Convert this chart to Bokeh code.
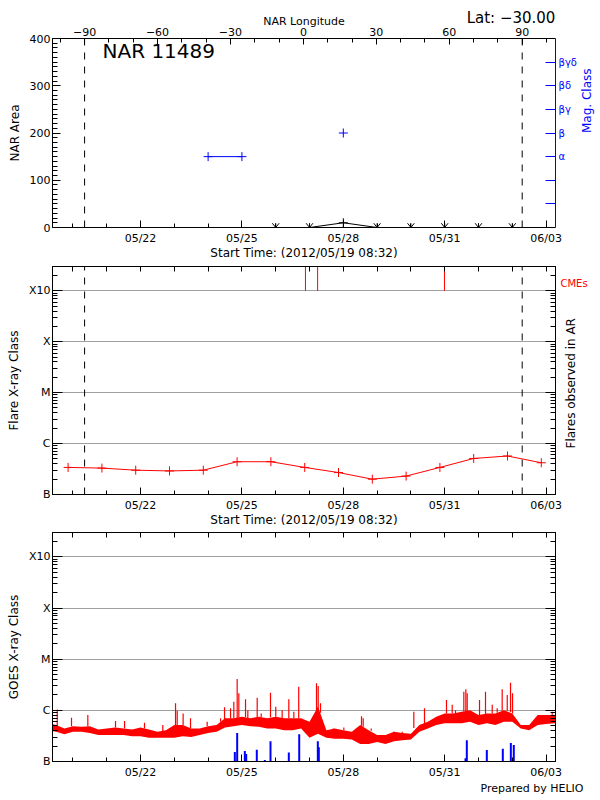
import numpy as np
import pandas as pd
from bokeh.plotting import figure
from bokeh.models import (Range1d, LinearAxis, LogAxis, FixedTicker,
                          CustomJSTickFormatter, Label, Title)
from bokeh.layouts import column
from bokeh.embed import file_html
from bokeh.resources import INLINE

FONT = "DejaVu Sans"
RED = "#ff0000"
BLUE = "#0000ff"
GRID = "#a0a0a0"

# ---------------- data ----------------
start_time = "2012-05-19 09:30"
end_time = "2012-06-03 06:40"
start_label = "Start Time: (2012/05/19 08:32)"
nar_title = "NAR 11489"
lat_text = "Lat: \u221230.00"

date_ticks = ["2012-05-22", "2012-05-25", "2012-05-28", "2012-05-31", "2012-06-03"]
date_labels = ["05/22", "05/25", "05/28", "05/31", "06/03"]
day_ticks = ["2012-05-20", "2012-05-21", "2012-05-22", "2012-05-23", "2012-05-24",
             "2012-05-25", "2012-05-26", "2012-05-27", "2012-05-28", "2012-05-29",
             "2012-05-30", "2012-05-31", "2012-06-01", "2012-06-02", "2012-06-03"]

lon_range = (-103.2, 103.7)
lon_ticks = [-90, -60, -30, 0, 30, 60, 90]
lon_labels = ["\u221290", "\u221260", "\u221230", "0", "30", "60", "90"]
lon_minor = list(range(-100, 101, 10))
limb_lons = [-90, 90]

area_range = (0, 400)
area_ticks = [0, 100, 200, 300, 400]
area_labels = ["0", "100", "200", "300", "400"]
area_minor = list(range(0, 401, 10))

mag_tick_pos = [50, 100, 150, 200, 250, 300, 350]
mag_tick_labels = ["", "", "\u03b1", "\u03b2", "\u03b2\u03b3", "\u03b2\u03b4", "\u03b2\u03b3\u03b4"]
mag_dates = ["2012-05-24", "2012-05-25", "2012-05-26", "2012-05-27", "2012-05-28"]
mag_class = ["\u03b1", "\u03b1", None, None, "\u03b2"]

area_dates = ["2012-05-26", "2012-05-27", "2012-05-28", "2012-05-29",
              "2012-05-30", "2012-05-31", "2012-06-01", "2012-06-02"]
area_vals = [0, 0, 10, 0, 0, 0, 0, 0]

xray_range = (1e-7, 3e-3)
xray_ticks = [1e-7, 1e-6, 1e-5, 1e-4, 1e-3]
xray_labels = ["B", "C", "M", "X", "X10"]
xray_grid = [1e-6, 1e-5, 1e-4, 1e-3]
xray_minor = [k * 10.0 ** e for e in range(-7, -2) for k in range(2, 10) if k * 10.0 ** e <= 3e-3]

# flare class of the active region (units of B1 = 1e-7 W/m^2)
flare_times = ["2012-05-19 20:35", "2012-05-20 20:35", "2012-05-21 20:35", "2012-05-22 20:35",
               "2012-05-23 20:35", "2012-05-24 20:35", "2012-05-25 20:35", "2012-05-26 20:35",
               "2012-05-27 20:35", "2012-05-28 20:35", "2012-05-29 20:35", "2012-05-30 20:35",
               "2012-05-31 20:35", "2012-06-01 20:35", "2012-06-02 20:35"]
flare_b = [3.4, 3.3, 3.0, 2.9, 3.0, 4.4, 4.4, 3.4, 2.7, 2.0, 2.3, 3.4, 5.1, 5.7, 4.2]

cme_times = ["2012-05-26 21:07", "2012-05-27 05:45", "2012-05-30 23:50"]
cme_label = "CMEs"

# GOES envelope every 6 h (units of B1 = 1e-7 W/m^2)
goes_start, goes_end = "2012-05-19 06:00", "2012-06-03 12:00"
goes_hi_b = [5.6, 5.2, 4.4, 4.9, 4.8, 4.9, 4.2, 4.4, 4.6, 4.4, 4.2, 4.6, 4.2, 3.8, 4.1, 5.2,
             5.2, 4.4, 4.4, 4.9, 5.2, 7.0, 7.0, 7.5, 7.0, 7.5, 7.0, 7.5, 7.0, 7.0, 7.0, 6.0,
             11.8, 4.1, 4.4, 4.1, 3.8, 5.2, 4.1, 3.3, 3.3, 3.8, 3.6, 3.5, 5.2, 6.0, 7.5, 8.7,
             8.7, 9.4, 10.1, 8.1, 8.7, 8.7, 10.1, 8.7, 5.2, 5.2, 8.1, 8.1, 8.1, 8.1]
goes_lo_b = [4.1, 3.8, 3.4, 3.8, 3.8, 3.6, 3.3, 3.3, 3.3, 3.3, 3.1, 3.1, 2.9, 2.9, 2.9, 2.9,
             3.1, 3.0, 3.3, 3.6, 3.8, 4.6, 4.9, 5.2, 4.9, 4.8, 4.4, 4.4, 4.1, 4.1, 4.4, 2.9,
             3.5, 2.9, 2.8, 2.8, 2.7, 2.2, 2.2, 2.4, 2.2, 2.5, 2.6, 2.7, 3.8, 4.4, 5.2, 5.6,
             5.6, 5.6, 6.0, 5.2, 5.6, 5.2, 6.0, 6.0, 4.4, 4.1, 5.2, 5.4, 5.6, 5.6]

# GOES short spikes: time, foot level, peak (units of B1)
spike_times = ["2012-05-19 12:52", "2012-05-19 23:00", "2012-05-20 10:35", "2012-05-21 06:15",
               "2012-05-21 12:40", "2012-05-22 02:50", "2012-05-22 15:50", "2012-05-23 00:52",
               "2012-05-23 02:03", "2012-05-23 06:15", "2012-05-23 11:30", "2012-05-23 23:20",
               "2012-05-24 08:50", "2012-05-24 11:40", "2012-05-24 15:55", "2012-05-24 18:15",
               "2012-05-24 20:38", "2012-05-24 21:48", "2012-05-25 02:34", "2012-05-25 04:12",
               "2012-05-25 10:51", "2012-05-25 13:41", "2012-05-25 20:18", "2012-05-26 00:02",
               "2012-05-26 04:34", "2012-05-26 09:18", "2012-05-26 12:52", "2012-05-26 16:20",
               "2012-05-27 04:58", "2012-05-27 06:10", "2012-05-27 07:48", "2012-05-27 16:48",
               "2012-05-28 00:22", "2012-05-28 12:55", "2012-05-28 14:07", "2012-05-28 19:48",
               "2012-05-29 11:51", "2012-05-29 17:48", "2012-05-30 02:04", "2012-05-30 09:39",
               "2012-05-31 01:16", "2012-05-31 05:19", "2012-05-31 07:40", "2012-05-31 13:34",
               "2012-05-31 15:00", "2012-05-31 15:58", "2012-06-01 00:43", "2012-06-01 04:58",
               "2012-06-01 09:43", "2012-06-01 13:16", "2012-06-01 16:48", "2012-06-01 20:24",
               "2012-06-01 22:44", "2012-06-02 00:09", "2012-06-03 04:19"]
spike_base_b = [5.0, 4.9, 4.9, 4.6, 4.4, 4.4, 3.9, 5.2, 5.2, 5.2, 4.5, 4.9, 6.0, 6.8, 7.0, 7.0,
                7.0, 7.2, 7.3, 7.0, 7.3, 7.4, 7.3, 7.5, 7.1, 7.0, 7.0, 7.0, 9.0, 10.0, 9.0, 4.2,
                4.1, 5.0, 4.8, 4.0, 3.7, 3.6, 4.5, 5.5, 8.7, 8.7, 8.9, 9.5, 9.6, 9.7, 8.1, 8.5,
                8.7, 9.0, 9.8, 9.8, 9.3, 8.7, 8.1]
spike_peak_b = [10.4, 7.2, 8.1, 6.2, 6.2, 5.7, 5.2, 13.7, 9.8, 8.7, 7.0, 6.0, 7.0, 11.5, 11.0, 14.8,
                41.0, 21.5, 16.5, 10.1, 17.7, 8.7, 22.2, 11.8, 10.1, 16.5, 9.4, 29.0, 34.0, 29.9, 13.7, 4.4,
                4.6, 7.7, 7.0, 4.4, 3.8, 3.8, 9.4, 11.0, 16.0, 12.8, 10.1, 23.2, 25.8, 21.5, 16.0, 23.2,
                12.8, 11.0, 25.8, 20.0, 34.8, 21.5, 9.4]

# flares observed in the AR (blue bars, units of B1)
ar_flare_times = ["2012-05-24 18:58", "2012-05-24 20:38", "2012-05-25 02:04", "2012-05-25 03:03",
                  "2012-05-25 10:34", "2012-05-25 16:16", "2012-05-25 20:18", "2012-05-26 09:18",
                  "2012-05-26 16:41", "2012-05-27 05:54", "2012-05-27 06:36", "2012-05-31 14:46",
                  "2012-05-31 15:42", "2012-06-01 05:54", "2012-06-01 17:15", "2012-06-01 22:57",
                  "2012-06-02 01:03"]
ar_flare_b = [1.54, 3.6, 1.6, 1.4, 1.7, 1.07, 2.5, 1.5, 3.4, 2.5, 1.9, 1.16, 2.6, 1.67, 1.77, 2.3, 2.1]

B1 = 1e-7

# placement of texts that sit outside the frames (axis coordinates)
lat_pos = 85.4                 # longitude at which the "Lat" text is centred
cme_label_level = 1.37e-3      # height of the "CMEs" text
flares_title = "Flares observed in AR"
flares_title_level = 8.0e-7    # height where the rotated right-hand title starts


# ---------------- helpers ----------------
def ms(vals):
    s = pd.to_datetime(pd.Series(list(vals)))
    return ((s - pd.Timestamp("1970-01-01")) / pd.Timedelta(milliseconds=1)).to_numpy(dtype=float)


def lab_fmt(pos, labs, log=False):
    return CustomJSTickFormatter(args=dict(pos=[float(v) for v in pos], labs=list(labs), lg=log), code="""
        for (let i = 0; i < pos.length; i++) {
            let d, tol;
            if (lg) { d = Math.abs(Math.log10(tick) - Math.log10(pos[i])); tol = 1e-6; }
            else { d = Math.abs(tick - pos[i]); tol = 1e-6 * Math.max(1, Math.abs(pos[i])); }
            if (d < tol) return labs[i];
        }
        return '';
    """)


def blank_fmt():
    return CustomJSTickFormatter(code="return '';")


def style(ax, major_in, minor_in, size="11px", color="black", standoff=2,
          label_size="12px", label_standoff=0):
    ax.major_tick_in = major_in
    ax.major_tick_out = 0
    ax.minor_tick_in = minor_in
    ax.minor_tick_out = 0
    ax.axis_line_color = color
    ax.major_tick_line_color = color
    ax.minor_tick_line_color = color if minor_in else None
    ax.major_label_text_color = color
    ax.axis_label_text_color = color
    ax.major_label_text_font = FONT
    ax.major_label_text_font_size = size
    ax.axis_label_text_font = FONT
    ax.axis_label_text_font_size = label_size
    ax.axis_label_text_font_style = "normal"
    ax.major_label_standoff = standoff
    ax.axis_label_standoff = label_standoff


def text_only(ax):
    ax.axis_line_color = None
    ax.major_tick_line_color = None
    ax.minor_tick_line_color = None
    ax.major_tick_in = 0
    ax.major_tick_out = 0
    ax.minor_tick_in = 0
    ax.minor_tick_out = 0


T0, T1 = ms([start_time, end_time])
DAY = 86400000.0


def base_fig(frame_h, top, bottom, yr, log=False):
    p = figure(frame_width=503, frame_height=frame_h,
               x_range=Range1d(T0, T1), y_range=Range1d(*yr),
               x_axis_type="datetime", y_axis_type="log" if log else "linear",
               output_backend="svg", toolbar_location=None,
               min_border_left=52, min_border_right=45,
               min_border_top=top, min_border_bottom=bottom)
    p.grid.visible = False
    p.outline_line_color = "black"
    p.background_fill_color = "white"
    p.border_fill_color = "white"
    return p


def time_axis(p, label):
    ax = p.below[0]
    ax.ticker = FixedTicker(ticks=list(ms(date_ticks)), minor_ticks=list(ms(day_ticks)))
    ax.formatter = lab_fmt(ms(date_ticks), date_labels)
    ax.axis_label = label
    style(ax, 7, 4, standoff=4, label_standoff=-2)


def top_time_axis(p):
    ax = LinearAxis(ticker=FixedTicker(ticks=list(ms(day_ticks))), formatter=blank_fmt())
    style(ax, 5, 0, size="1px", standoff=-6)
    p.add_layout(ax, "above")


def xray_left(p, label):
    ax = p.left[0]
    ax.ticker = FixedTicker(ticks=xray_ticks, minor_ticks=xray_minor)
    ax.formatter = lab_fmt(xray_ticks, xray_labels, log=True)
    ax.axis_label = label
    style(ax, 10, 5, standoff=2, label_standoff=5)


def xray_right(p):
    ax = LogAxis(ticker=FixedTicker(ticks=xray_ticks, minor_ticks=xray_minor), formatter=blank_fmt())
    style(ax, 10, 5, size="1px", standoff=0)
    p.add_layout(ax, "right")
    return ax


# ---------------- panel 1: NAR area ----------------
p1 = base_fig(189, 38, 33, area_range)
p1.outline_line_color = None
time_axis(p1, start_label)
yl = p1.left[0]
yl.ticker = FixedTicker(ticks=area_ticks, minor_ticks=area_minor)
yl.formatter = lab_fmt(area_ticks, area_labels)
yl.axis_label = "NAR Area"
style(yl, 8, 5, standoff=2, label_standoff=5)

p1.extra_x_ranges = {"lon": Range1d(*lon_range)}
lon_ax = LinearAxis(x_range_name="lon", ticker=FixedTicker(ticks=lon_ticks, minor_ticks=lon_minor),
                    formatter=lab_fmt(lon_ticks, lon_labels), axis_label="NAR Longitude")
style(lon_ax, 6, 4, standoff=3, label_size="11px", label_standoff=-3)
p1.add_layout(lon_ax, "above")

lat_ax = LinearAxis(x_range_name="lon", ticker=FixedTicker(ticks=[lat_pos]),
                    formatter=lab_fmt([lat_pos], [lat_text]))
style(lat_ax, 0, 0, size="15px", standoff=-15)
text_only(lat_ax)
p1.add_layout(lat_ax, "above")

mag_ax = LinearAxis(ticker=FixedTicker(ticks=mag_tick_pos), formatter=lab_fmt(mag_tick_pos, mag_tick_labels))
style(mag_ax, 10, 0, size="10px", color=BLUE, standoff=3)
p1.add_layout(mag_ax, "right")

magl_ax = LinearAxis(ticker=FixedTicker(ticks=[]), formatter=blank_fmt(), axis_label="Mag. Class")
style(magl_ax, 0, 0, size="1px", color=BLUE, standoff=0, label_standoff=7)
text_only(magl_ax)
magl_ax.axis_label_orientation = np.pi / 2
p1.add_layout(magl_ax, "right")

p1.segment(x0=limb_lons, y0=[area_range[0]] * 2, x1=limb_lons, y1=[area_range[1]] * 2,
           x_range_name="lon", line_color="black", line_width=1, line_dash="7 7")

mag_x = ms(mag_dates)
mag_y = [mag_tick_pos[mag_tick_labels.index(c)] if c else np.nan for c in mag_class]
p1.line(mag_x, mag_y, line_color=BLUE, line_width=1)
p1.scatter(mag_x, mag_y, marker="cross", size=9, line_color=BLUE, line_width=1)

ax_x = ms(area_dates)
av = np.array(area_vals, dtype=float)
p1.line(ax_x, av, line_color="black", line_width=1)
nz = av > 0
p1.scatter(ax_x[nz], av[nz], marker="cross", size=9, line_color="black", line_width=1)
zx = ax_x[~nz]
arm_w, arm_h = 0.1 * DAY, 9.0
p1.segment(x0=np.concatenate([zx, zx - arm_w, zx + arm_w]),
           y0=np.concatenate([np.zeros_like(zx), np.full_like(zx, arm_h), np.full_like(zx, arm_h)]),
           x1=np.concatenate([zx, zx, zx]),
           y1=np.concatenate([np.full_like(zx, arm_h), np.zeros_like(zx), np.zeros_like(zx)]),
           line_color="black", line_width=1)

p1.add_layout(Label(x=T0, y=area_range[1], x_offset=50, y_offset=-12, text=nar_title,
                    text_font=FONT, text_font_size="20px", text_color="black",
                    text_align="left", text_baseline="middle"))

# ---------------- panel 2: flares in AR ----------------
p2 = base_fig(228, 4, 33, xray_range, log=True)
time_axis(p2, start_label)
top_time_axis(p2)
xray_left(p2, "Flare X-ray Class")
xray_right(p2)
cme_ax = LogAxis(ticker=FixedTicker(ticks=[cme_label_level]),
                 formatter=lab_fmt([cme_label_level], [cme_label], log=True))
style(cme_ax, 0, 0, size="10px", color=RED, standoff=5)
text_only(cme_ax)
p2.add_layout(cme_ax, "right")

fl_ax = LogAxis(ticker=FixedTicker(ticks=[flares_title_level]),
                formatter=lab_fmt([flares_title_level], [flares_title], log=True))
style(fl_ax, 0, 0, size="12px", color="black", standoff=-19)
text_only(fl_ax)
fl_ax.major_label_orientation = np.pi / 2
p2.add_layout(fl_ax, "right")

p2.ygrid.visible = True
p2.ygrid.ticker = FixedTicker(ticks=xray_grid)
p2.ygrid.grid_line_color = GRID
p2.ygrid.grid_line_width = 1

p2.extra_x_ranges = {"lon": Range1d(*lon_range)}
p2.segment(x0=limb_lons, y0=[xray_range[0]] * 2, x1=limb_lons, y1=[xray_range[1]] * 2,
           x_range_name="lon", line_color="black", line_width=1, line_dash="7 7")

fx = ms(flare_times)
fy = np.array(flare_b) * B1
p2.line(fx, fy, line_color=RED, line_width=1)
p2.scatter(fx, fy, marker="cross", size=9, line_color=RED, line_width=1)

cx = ms(cme_times)
p2.segment(x0=cx, y0=[xray_ticks[-1]] * len(cx), x1=cx, y1=[xray_range[1]] * len(cx),
           line_color=RED, line_width=1)

# ---------------- panel 3: GOES ----------------
p3 = base_fig(229, 3, 39, xray_range, log=True)
time_axis(p3, "")
p3.below[0].axis_label = None
top_time_axis(p3)
xray_left(p3, "GOES X-ray Class")
xray_right(p3)
p3.ygrid.visible = True
p3.ygrid.ticker = FixedTicker(ticks=xray_grid)
p3.ygrid.grid_line_color = GRID
p3.ygrid.grid_line_width = 1

gx = ms(pd.date_range(goes_start, goes_end, freq="6h").strftime("%Y-%m-%d %H:%M"))
p3.varea(x=gx, y1=np.array(goes_lo_b) * B1, y2=np.array(goes_hi_b) * B1, fill_color=RED)
sx = ms(spike_times)
p3.segment(x0=sx, y0=np.array(spike_base_b) * B1, x1=sx, y1=np.array(spike_peak_b) * B1,
           line_color=RED, line_width=1.2)

bx = ms(ar_flare_times)
p3.segment(x0=bx, y0=[xray_range[0]] * len(bx), x1=bx, y1=np.array(ar_flare_b) * B1,
           line_color=BLUE, line_width=2)

p3.add_layout(Title(text="Prepared by HELIO", align="right", offset=-28, standoff=0,
                    vertical_align="top",
                    text_font=FONT, text_font_size="11px", text_font_style="normal",
                    text_color="black"), "below")

layout = column(p1, p2, p3, spacing=0)
open("out.html", "w").write(file_html(layout, INLINE))
